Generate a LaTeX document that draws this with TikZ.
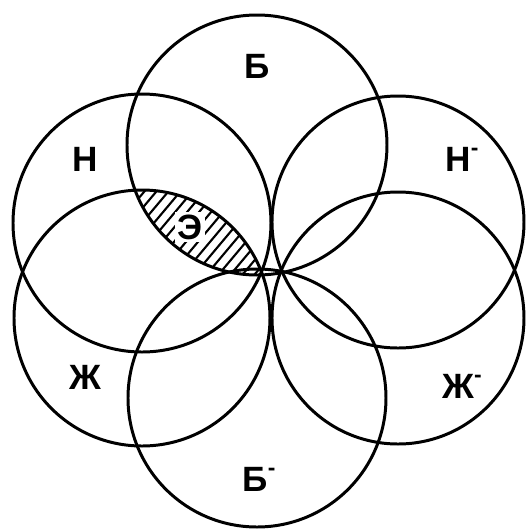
\documentclass[tikz,border=0pt]{standalone}
\usepackage{fontspec}
\setmainfont{Liberation Sans}
\newcommand{\negmark}{\raisebox{0.85ex}{\fontsize{13}{14}\selectfont -}}

\begin{document}
\begin{tikzpicture}[
    x=0.02cm, y=-0.02cm,
    ring/.style={draw=black, line width=1.7pt},
    hatch/.style={draw=black, line width=1.2pt},
    lbl/.style={font=\fontsize{20}{22}\selectfont\bfseries, inner sep=1pt}
]
\useasboundingbox (0,0) rectangle (526,529);

\coordinate (cB) at (257,145);
\coordinate (cN) at (142,223);
\coordinate (cZh) at (142,318);
\coordinate (cBm) at (257,398);
\coordinate (cNm) at (398,222);
\coordinate (cZhm) at (398,318);

% hatched lens
\begin{scope}
  \clip (cB) circle (130);
  \clip (cZh) circle (127);
  \foreach \k in {0,...,17}
    \draw[hatch] (12*\k,349) -- (200+12*\k,111);
\end{scope}
\node[lbl, fill=white, inner sep=1.5pt] (e) at (190,227) {Э};

\draw[ring] (cB) circle (130);
\draw[ring] (cN) circle (129);
\draw[ring] (cZh) circle (128);
\draw[ring] (cBm) circle (129);
\draw[ring] (cNm) circle (126);
\draw[ring] (cZhm) circle (126);

\node[lbl] (b) at (257,66) {Б};
\node[lbl] (n) at (85,159) {Н};
\node[lbl] (nm) at (462,159) {Н\negmark};
\node[lbl] (zh) at (85,377) {Ж};
\node[lbl] (zhm) at (462,386) {Ж\negmark};
\node[lbl] (bm) at (259,479) {Б\negmark};
\end{tikzpicture}
\end{document}
